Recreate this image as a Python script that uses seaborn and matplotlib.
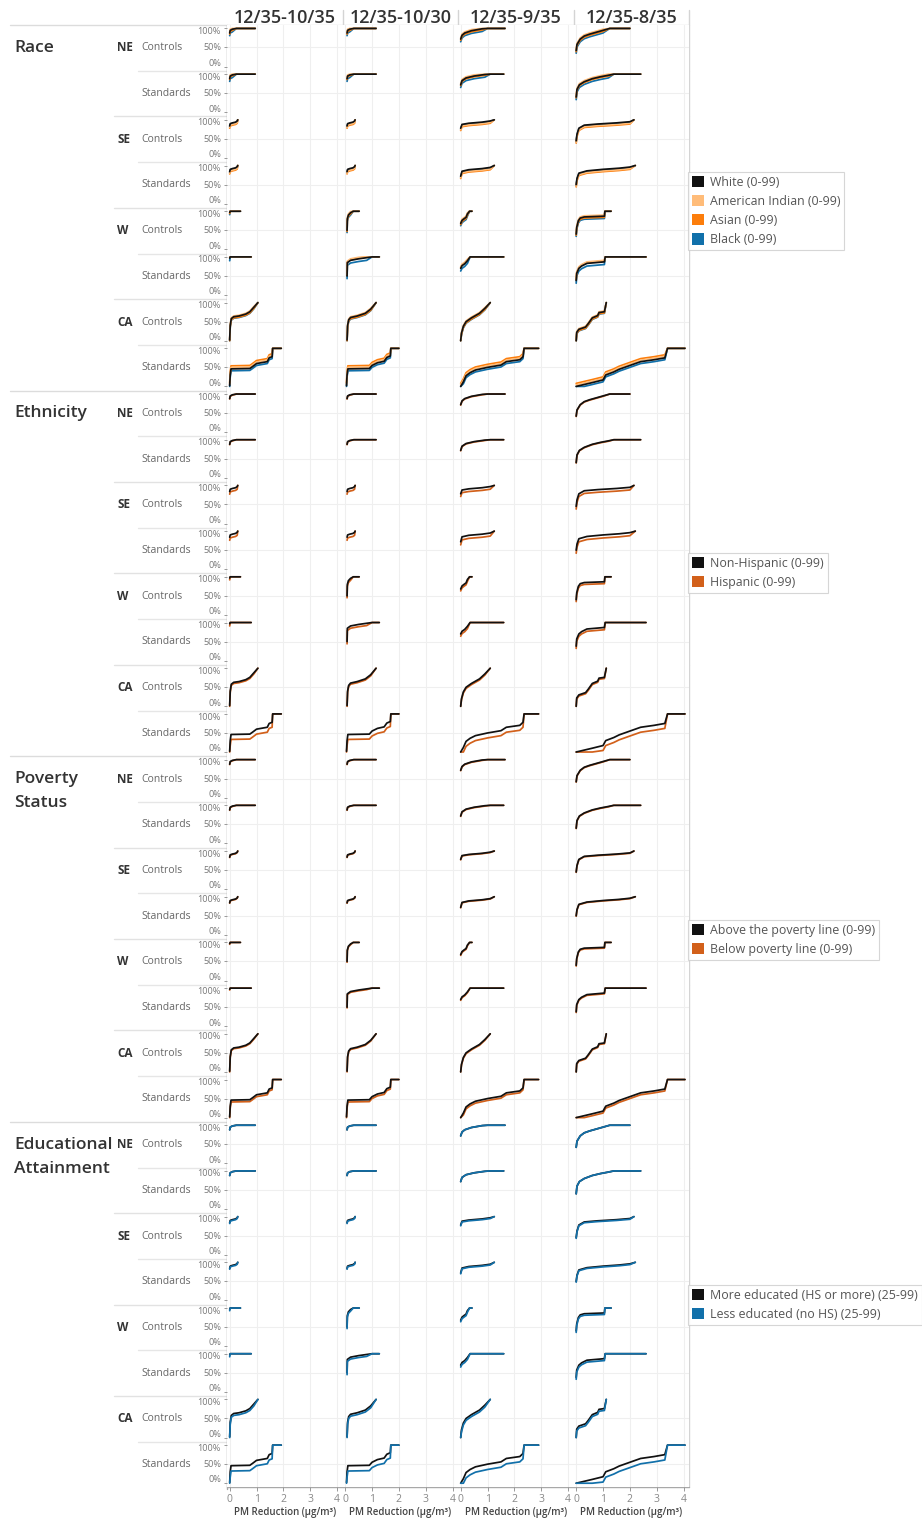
import matplotlib
matplotlib.use("Agg")
import matplotlib.pyplot as plt
from matplotlib.lines import Line2D
from matplotlib.patches import Patch
import pandas as pd
import seaborn as sns

sns.set_theme(style="white")
plt.rcParams["font.family"] = ["Open Sans", "DejaVu Sans"]

# ---------------------------------------------------------------- data
scenarios = ["12/35-10/35", "12/35-10/30", "12/35-9/35", "12/35-8/35"]
regions = ["NE", "SE", "W", "CA"]
rule_types = ["Controls", "Standards"]
x_ticks = [0, 1, 2, 3, 4]
y_ticks = [1.0, 0.5, 0.0]
y_tick_labels = ["100%", "50%", "0%"]
x_label = "PM Reduction (\u00b5g/m\u00b3)"

# Cumulative share of population (y) by PM reduction (x), one (x, y) knot
# list per scenario column, for the reference population of each panel row.
ne_controls = [
    ([0, 0.02, 0.1, 0.25, 0.95], [0.88, 0.95, 0.98, 1.0, 1.0]),
    ([0.07, 0.09, 0.17, 0.32, 1.15], [0.88, 0.95, 0.98, 1.0, 1.0]),
    ([0, 0.05, 0.15, 0.4, 0.8, 1.0, 1.65], [0.72, 0.82, 0.88, 0.94, 0.99, 1.0, 1.0]),
    ([0, 0.03, 0.15, 0.3, 0.5, 0.7, 1.0, 1.25, 2.0],
     [0.42, 0.58, 0.72, 0.8, 0.85, 0.89, 0.95, 1.0, 1.0]),
]
ne_standards = [
    ([0, 0.02, 0.1, 0.25, 0.95], [0.88, 0.95, 0.98, 1.0, 1.0]),
    ([0.07, 0.09, 0.17, 0.32, 1.15], [0.88, 0.95, 0.98, 1.0, 1.0]),
    ([0, 0.05, 0.2, 0.5, 0.9, 1.1, 1.6], [0.72, 0.83, 0.9, 0.95, 0.99, 1.0, 1.0]),
    ([0, 0.03, 0.12, 0.3, 0.6, 0.9, 1.2, 1.4, 2.4],
     [0.4, 0.6, 0.72, 0.8, 0.88, 0.93, 0.97, 1.0, 1.0]),
]
se_controls = [
    ([0, 0.02, 0.1, 0.22, 0.28, 0.3], [0.84, 0.9, 0.92, 0.94, 0.97, 1.0]),
    ([0.07, 0.09, 0.17, 0.29, 0.35, 0.37], [0.84, 0.9, 0.92, 0.94, 0.97, 1.0]),
    ([0, 0.05, 0.3, 0.8, 1.1, 1.25], [0.78, 0.88, 0.91, 0.94, 0.97, 1.0]),
    ([0, 0.03, 0.1, 0.3, 0.8, 1.5, 2.0, 2.15],
     [0.45, 0.62, 0.78, 0.86, 0.89, 0.92, 0.95, 1.0]),
]
se_standards = [
    ([0, 0.02, 0.1, 0.22, 0.28, 0.3], [0.84, 0.9, 0.92, 0.94, 0.97, 1.0]),
    ([0.07, 0.09, 0.17, 0.29, 0.35, 0.37], [0.84, 0.9, 0.92, 0.94, 0.97, 1.0]),
    ([0, 0.05, 0.3, 0.8, 1.1, 1.25], [0.72, 0.85, 0.89, 0.92, 0.95, 1.0]),
    ([0, 0.03, 0.1, 0.4, 1.0, 1.6, 2.0, 2.2],
     [0.5, 0.66, 0.8, 0.86, 0.9, 0.93, 0.96, 1.0]),
]
w_controls = [
    ([0, 0.02, 0.4], [0.97, 1.0, 1.0]),
    ([0.07, 0.08, 0.12, 0.2, 0.3, 0.52], [0.5, 0.8, 0.9, 0.96, 1.0, 1.0]),
    ([0, 0.05, 0.12, 0.2, 0.25, 0.33, 0.42], [0.68, 0.76, 0.8, 0.84, 0.93, 1.0, 1.0]),
    ([0, 0.02, 0.08, 0.15, 0.3, 1.05, 1.07, 1.3],
     [0.4, 0.58, 0.75, 0.82, 0.85, 0.87, 1.0, 1.0]),
]
w_standards = [
    ([0, 0.02, 0.8], [0.97, 1.0, 1.0]),
    ([0.07, 0.08, 0.2, 0.5, 0.8, 1.0, 1.27], [0.5, 0.85, 0.91, 0.95, 0.98, 1.0, 1.0]),
    ([0, 0.05, 0.15, 0.25, 0.35, 1.6], [0.7, 0.77, 0.82, 0.9, 1.0, 1.0]),
    ([0, 0.02, 0.1, 0.2, 0.4, 1.05, 1.08, 2.6],
     [0.38, 0.57, 0.7, 0.76, 0.83, 0.87, 1.0, 1.0]),
]
ca_controls = [
    ([0, 0.02, 0.06, 0.15, 0.35, 0.6, 0.75, 0.9, 1.05],
     [0.02, 0.4, 0.58, 0.63, 0.65, 0.7, 0.76, 0.88, 1.0]),
    ([0.07, 0.09, 0.13, 0.2, 0.45, 0.75, 0.95, 1.15],
     [0.02, 0.4, 0.55, 0.61, 0.65, 0.72, 0.83, 1.0]),
    ([0, 0.03, 0.1, 0.2, 0.4, 0.7, 0.9, 1.1],
     [0.0, 0.2, 0.38, 0.5, 0.6, 0.72, 0.85, 1.0]),
    ([0, 0.02, 0.1, 0.35, 0.45, 0.6, 0.8, 0.85, 1.05, 1.12],
     [0.0, 0.22, 0.3, 0.36, 0.45, 0.6, 0.66, 0.74, 0.76, 1.0]),
]
ca_standards = [
    ([0, 0.02, 0.05, 0.75, 0.85, 1.0, 1.4, 1.47, 1.58, 1.6, 1.92],
     [0.02, 0.3, 0.46, 0.47, 0.52, 0.6, 0.65, 0.75, 0.78, 1.0, 1.0]),
    ([0.05, 0.07, 0.1, 0.9, 1.0, 1.2, 1.45, 1.55, 1.68, 1.7, 2.0],
     [0.02, 0.3, 0.46, 0.47, 0.55, 0.62, 0.66, 0.76, 0.8, 1.0, 1.0]),
    ([0, 0.1, 0.2, 0.35, 0.55, 1.0, 1.5, 1.7, 2.2, 2.32, 2.36, 2.9],
     [0.0, 0.12, 0.28, 0.36, 0.43, 0.5, 0.56, 0.65, 0.7, 0.78, 1.0, 1.0]),
    ([0, 0.3, 0.6, 1.0, 1.1, 1.4, 1.6, 2.0, 2.4, 2.9, 3.3, 3.4, 4.05],
     [0.0, 0.05, 0.1, 0.17, 0.3, 0.38, 0.45, 0.55, 0.65, 0.7, 0.75, 1.0, 1.0]),
]
panel_curves = [ne_controls, ne_standards, se_controls, se_standards,
                w_controls, w_standards, ca_controls, ca_standards]

# Share gap of each comparison population against the reference population,
# per panel row (NE C, NE S, SE C, SE S, W C, W S, CA C, CA S).
race_series = ["White (0-99)", "American Indian (0-99)", "Asian (0-99)", "Black (0-99)"]
race_colors = ["#111111", "#FFBC79", "#FC7D0B", "#1170AA"]
race_gaps = {
    "American Indian (0-99)": [0.03, 0.03, -0.04, -0.04, 0.03, 0.04, 0.02, 0.04],
    "Asian (0-99)": [-0.03, -0.02, -0.06, -0.06, -0.03, 0.02, -0.03, 0.08],
    "Black (0-99)": [-0.07, -0.07, -0.02, -0.02, -0.06, -0.07, -0.04, -0.05],
}
ethnicity_series = ["Non-Hispanic (0-99)", "Hispanic (0-99)"]
ethnicity_colors = ["#111111", "#D2601A"]
ethnicity_gaps = {
    "Hispanic (0-99)": [-0.01, -0.01, -0.07, -0.08, -0.05, -0.06, -0.03, -0.13],
}
poverty_series = ["Above the poverty line (0-99)", "Below poverty line (0-99)"]
poverty_colors = ["#111111", "#D2601A"]
poverty_gaps = {
    "Below poverty line (0-99)": [-0.01, -0.01, -0.01, -0.01, -0.02, -0.02, -0.02, -0.05],
}
education_series = ["More educated (HS or more) (25-99)", "Less educated (no HS) (25-99)"]
education_colors = ["#111111", "#1170AA"]
education_gaps = {
    "Less educated (no HS) (25-99)": [0.0, 0.0, -0.02, -0.02, -0.04, -0.05, -0.05, -0.14],
}

groups = [
    dict(title=["Race"], series=race_series, colors=race_colors, gaps=race_gaps,
         ref_on_top=True, legend_top=172),
    dict(title=["Ethnicity"], series=ethnicity_series, colors=ethnicity_colors,
         gaps=ethnicity_gaps, ref_on_top=True, legend_top=553),
    dict(title=["Poverty", "Status"], series=poverty_series, colors=poverty_colors,
         gaps=poverty_gaps, ref_on_top=True, legend_top=920),
    dict(title=["Educational", "Attainment"], series=education_series,
         colors=education_colors, gaps=education_gaps, ref_on_top=False, legend_top=1285),
]

# ---------------------------------------------------------------- layout
W, H = 922, 1519
fig = plt.figure(figsize=(W / 100, H / 100), dpi=100)
fig.patch.set_facecolor("white")

col_edges = [227, 342.5, 458, 573.5, 689]
top0, row_h = 25.0, 45.7
n_rows = 32
bottom = top0 + n_rows * row_h


def fx(px):
    return px / W


def fy(py):
    return 1 - py / H


def hline(y, x0, x1, color, lw=1.0):
    fig.add_artist(Line2D([fx(x0), fx(x1)], [fy(y), fy(y)], transform=fig.transFigure,
                          color=color, lw=lw, zorder=0))


def vline(x, y0, y1, color, lw=1.0):
    fig.add_artist(Line2D([fx(x), fx(x)], [fy(y0), fy(y1)], transform=fig.transFigure,
                          color=color, lw=lw, zorder=0))


TEXT_DARK = "#333333"
TEXT_MID = "#666666"
TEXT_LIGHT = "#777777"

for g, grp in enumerate(groups):
    palette = dict(zip(grp["series"], grp["colors"]))
    ref = grp["series"][0]
    others = grp["series"][1:]
    hue_order = others[::-1] + [ref] if grp["ref_on_top"] else [ref] + others

    for k in range(8):
        r = g * 8 + k
        T = top0 + r * row_h
        region = regions[k // 2]
        rtype = rule_types[k % 2]

        for c in range(4):
            ax = fig.add_axes([fx(col_edges[c]), fy(T + row_h),
                               (col_edges[c + 1] - col_edges[c]) / W, row_h / H])
            xs, ys = panel_curves[k][c]
            records = []
            for s in grp["series"]:
                gap = 0.0 if s == ref else grp["gaps"][s][k]
                for xv, yv in zip(xs, ys):
                    yy = yv if yv >= 1 else min(max(yv + gap, 0.0), 1.0)
                    records.append((s, xv, yy))
            df = pd.DataFrame(records, columns=["series", "x", "y"])
            sns.lineplot(data=df, x="x", y="y", hue="series", hue_order=hue_order,
                         palette=palette, estimator=None, sort=False, legend=False,
                         lw=1.25, ax=ax)
            for ln in ax.lines:
                ln.set_solid_capstyle("round")
                ln.set_solid_joinstyle("round")

            ax.set_xlim(-0.1, 4.2)
            ax.set_ylim(-0.11, 1.09)
            ax.set_facecolor("white")
            for sp in ax.spines.values():
                sp.set_visible(False)
            ax.set_xticks(x_ticks)
            ax.set_yticks([0.5])
            ax.grid(True, color="#efefef", lw=0.8)
            ax.set_axisbelow(True)
            ax.set_xlabel("")
            ax.set_ylabel("")
            ax.tick_params(labelleft=False, labelbottom=False, left=False, bottom=False)

            if c == 0:
                ax.set_yticks(y_ticks)
                ax.grid(False, axis="y")
                ax.axhline(0.5, color="#efefef", lw=0.8, zorder=0)
                ax.tick_params(axis="y", left=True, length=2.5, width=0.7,
                               color="#999999", pad=1)

            if r == n_rows - 1:
                ax.tick_params(axis="x", bottom=True, labelbottom=True, length=3,
                               width=0.7, color="#999999", labelsize=7.5,
                               labelcolor="#888888", pad=2)
                ax.set_xticklabels([str(t) for t in x_ticks])
                ax.set_xlabel(x_label, fontsize=7, color="#444444", labelpad=1,
                              fontweight="semibold")

        # y tick labels at the left of the first column
        for lbl, dy in zip(y_tick_labels, [6.5, 23.0, 38.3]):
            fig.text(fx(221), fy(T + dy), lbl, ha="right", va="center",
                     fontsize=6.6, color=TEXT_LIGHT)

        # row captions
        if k % 2 == 0:
            fig.text(fx(117), fy(T + row_h / 2), region, ha="left", va="center",
                     fontsize=8.5, fontweight="bold", color=TEXT_DARK)
        fig.text(fx(141.5), fy(T + row_h / 2), rtype, ha="left", va="center",
                 fontsize=7.5, color=TEXT_MID)

        # separators above each row
        if k == 0:
            hline(T, 10, col_edges[-1], "#dcdcdc")
        elif k % 2 == 0:
            hline(T, 114, col_edges[-1], "#e2e2e2")
        else:
            hline(T, 138, col_edges[-1], "#e6e6e6")

    # group caption
    T0 = top0 + g * 8 * row_h
    for i, line in enumerate(grp["title"]):
        fig.text(fx(14), fy(T0 + row_h / 2 + i * 24), line, ha="left", va="center",
                 fontsize=12.5, fontweight="semibold", color=TEXT_DARK)

    # legend
    handles = [Patch(facecolor=col, edgecolor="none") for col in grp["colors"]]
    leg = fig.legend(handles, grp["series"], loc="upper left",
                     bbox_to_anchor=(fx(688), fy(grp["legend_top"])),
                     frameon=True, fancybox=False, edgecolor="#cccccc",
                     fontsize=8.9, labelcolor="#555555", handlelength=1.0,
                     handleheight=1.0, handletextpad=0.5, labelspacing=0.5,
                     borderpad=0.3, borderaxespad=0)
    leg.get_frame().set_linewidth(0.8)

# column separators, axis lines and scenario headers
for xe in col_edges[1:]:
    vline(xe, 10, bottom, "#d4d4d4")
vline(col_edges[0], top0, bottom + 2, "#a8a8a8")
hline(bottom, col_edges[0], col_edges[-1], "#a8a8a8")

for c, name in enumerate(scenarios):
    cx = (col_edges[c] + col_edges[c + 1]) / 2
    fig.text(fx(cx), fy(18), name, ha="center", va="center", fontsize=13,
             fontweight="semibold", color=TEXT_DARK)

fig.savefig("out.png", dpi=100, facecolor="white")
